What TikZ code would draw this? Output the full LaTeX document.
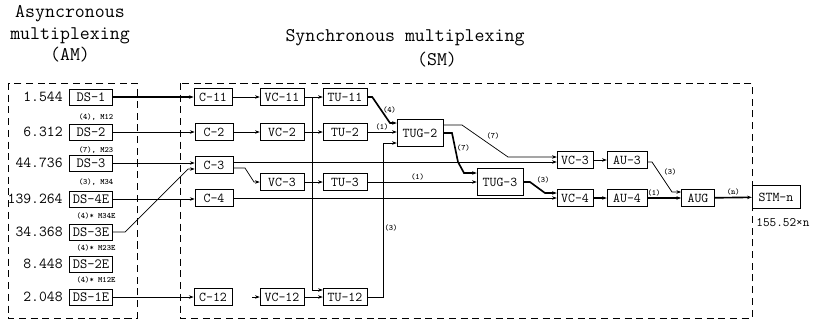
\documentclass[tikz,border=0pt]{standalone}
\usepackage{fontspec}
\usetikzlibrary{arrows.meta}
\begin{document}
\begin{tikzpicture}[x=0.03cm,y=-0.03cm,
  every node/.style={inner sep=1pt},
  box/.style={draw,minimum height=0.5cm,inner xsep=2pt,inner ysep=1pt,
              font=\ttfamily\fontsize{11.5}{12}\selectfont},
  cbox/.style={box,minimum width=1.15cm},
  vbox/.style={box,minimum width=1.32cm},
  dsbox/.style={box,minimum width=1.3cm,minimum height=0.48cm,
                font=\ttfamily\fontsize{12}{13}\selectfont},
  gbox/.style={box,minimum width=1.38cm,minimum height=0.81cm},
  rate/.style={anchor=east,font=\ttfamily\fontsize{13}{14}\selectfont},
  note/.style={font=\ttfamily\bfseries\fontsize{7}{8}\selectfont},
  title/.style={align=center,font=\ttfamily\fontsize{16.5}{18.3}\selectfont},
  area/.style={draw,dash pattern=on 6pt off 4pt},
  link/.style={-{Stealth[length=4pt,width=3pt]},semithick},
  bus/.style={link,line width=1.4pt}]
\useasboundingbox (0,0) rectangle (816,325);
% titles
\node[title] (amtitle) at (70,34) {Asyncronous\\multiplexing\\(AM)};
\node[title] (smtitle) at (405,38) {Synchronous multiplexing};
\node[title] (smabbr) at (437,60) {(SM)};
% the two areas
\draw[area] (8,83) rectangle (137,318);
\draw[area] (180,83) rectangle (752,318);
% asynchronous side
\node[dsbox] (ds1) at (91,97) {DS-1};
\node[dsbox] (ds2) at (91,132) {DS-2};
\node[dsbox] (ds3) at (91,163) {DS-3};
\node[dsbox] (ds4e) at (91,199) {DS-4E};
\node[dsbox] (ds3e) at (91,232) {DS-3E};
\node[dsbox] (ds2e) at (91,264) {DS-2E};
\node[dsbox] (ds1e) at (91,297) {DS-1E};
\node[rate] (r1) at (64,97) {1.544};
\node[rate] (r2) at (64,132) {6.312};
\node[rate] (r3) at (64,163) {44.736};
\node[rate] (r4e) at (64,199) {139.264};
\node[rate] (r3e) at (64,232) {34.368};
\node[rate] (r2e) at (64,264) {8.448};
\node[rate] (r1e) at (64,297) {2.048};
\node[note] (m12) at (96,117) {(4), M12};
\node[note] (m23) at (96,150) {(7), M23};
\node[note] (m34) at (96,182) {(3), M34};
\node[note] (m34e) at (96,216) {(4)* M34E};
\node[note] (m23e) at (96,248) {(4)* M23E};
\node[note] (m12e) at (96,280) {(4)* M12E};
% synchronous side
\node[cbox] (c11) at (213,97) {C-11};
\node[vbox] (vc11) at (282,97) {VC-11};
\node[vbox] (tu11) at (345,97) {TU-11};
\node[cbox] (c2) at (214,132) {C-2};
\node[vbox] (vc2) at (282,132) {VC-2};
\node[vbox] (tu2) at (345,132) {TU-2};
\node[cbox] (c3) at (214,165) {C-3};
\node[vbox] (vc3) at (282,182) {VC-3};
\node[vbox] (tu3) at (345,182) {TU-3};
\node[cbox] (c4) at (214,198) {C-4};
\node[cbox] (c12) at (213,297) {C-12};
\node[vbox] (vc12) at (282,297) {VC-12};
\node[vbox] (tu12) at (345,297) {TU-12};
\node[gbox] (tug2) at (420,133) {TUG-2};
\node[gbox] (tug3) at (500,182) {TUG-3};
\node[box,minimum width=1.08cm] (vc3r) at (575,160) {VC-3};
\node[box,minimum width=1.08cm] (vc4) at (575,198) {VC-4};
\node[box,minimum width=1.2cm] (au3) at (627,160) {AU-3};
\node[box,minimum width=1.2cm] (au4) at (627,198) {AU-4};
\node[box,minimum width=1cm] (aug) at (698,198) {AUG};
\node[box,minimum width=1.44cm,minimum height=0.69cm] (stm) at (776,197) {STM-n};
\node[rate,anchor=west,font=\ttfamily\fontsize{11}{12}\selectfont] (stmrate) at (755,223) {155.52×n};
\coordinate (vsplit) at (312,97);
\coordinate (vstub) at (252,297);
% mapping into containers
\draw[bus] (ds1) -- (c11);
\draw[link] (ds2) -- (c2.west |- ds2);
\draw[link] (ds3) -- (c3.west |- ds3);
\draw[link] (ds4e) -- (c4.west |- ds4e);
\draw[link] (ds3e.east) -- (125,232) -- (188,169) -- (c3.west |- 0,169);
\draw[link] (ds1e) -- (c12.west |- ds1e);
% containers to tributary units
\draw[link] (c11) -- (vc11);
\draw[link] (vc11) -- (tu11);
\draw[link] (vsplit) |- ([yshift=6pt]tu12.west);
\draw[link] (c2) -- (vc2);
\draw[link] (vc2) -- (tu2);
\draw[link] (c3.east |- 0,168) -- (245,168) -- (254,182) -- (vc3.west);
\draw[link] (c3.east |- 0,162) -- (vc3r.west |- 0,162);
\draw[link] (vc3) -- (tu3);
\draw[link] (c4) -- (vc4.west |- c4);
\draw[link] (vstub) -- (vc12);
\draw[link] (vc12) -- (tu12);
% tributary unit groups
\draw[bus] (tu11.east) -- ++(5,0) -- node[note,right]{(4)} (390,123) -- (tug2.west |- 0,123);
\draw[link] (tu2) -- node[note,above]{(1)} (tug2.west |- tu2);
\draw[link] (tu12.east) -- (383,297) -- node[note,right,pos=0.45]{(3)} (383,143) -- (tug2.west |- 0,143);
\draw[link] (tu3) -- node[note,above,pos=0.46]{(1)} (tug3.west |- tu3);
\draw[link] (tug2.east |- 0,125) -- (462,125) -- node[note,above right]{(7)} (508,157) -- (vc3r.west |- 0,157);
\draw[bus] (tug2.east |- 0,133) -- (452,133) -- node[note,right]{(7)} (458,162) -- (464,173) -- (tug3.west |- 0,173);
\draw[bus] (tug3.east) -- (530,182) -- node[note,above right,pos=0.3]{(3)} (545,193) -- (vc4.west |- 0,193);
% administrative units
\draw[link] (vc3r) -- (au3);
\draw[bus] (vc4) -- (au4);
\draw[link] (au3.east |- 0,162) -- (652,162) -- node[note,above right]{(3)} (672,192) -- (aug.west |- 0,192);
\draw[bus] (au4) -- node[note,above,pos=0.2]{(1)} (aug);
\draw[bus] (aug) -- node[note,above]{(n)} (stm);
\end{tikzpicture}
\end{document}
